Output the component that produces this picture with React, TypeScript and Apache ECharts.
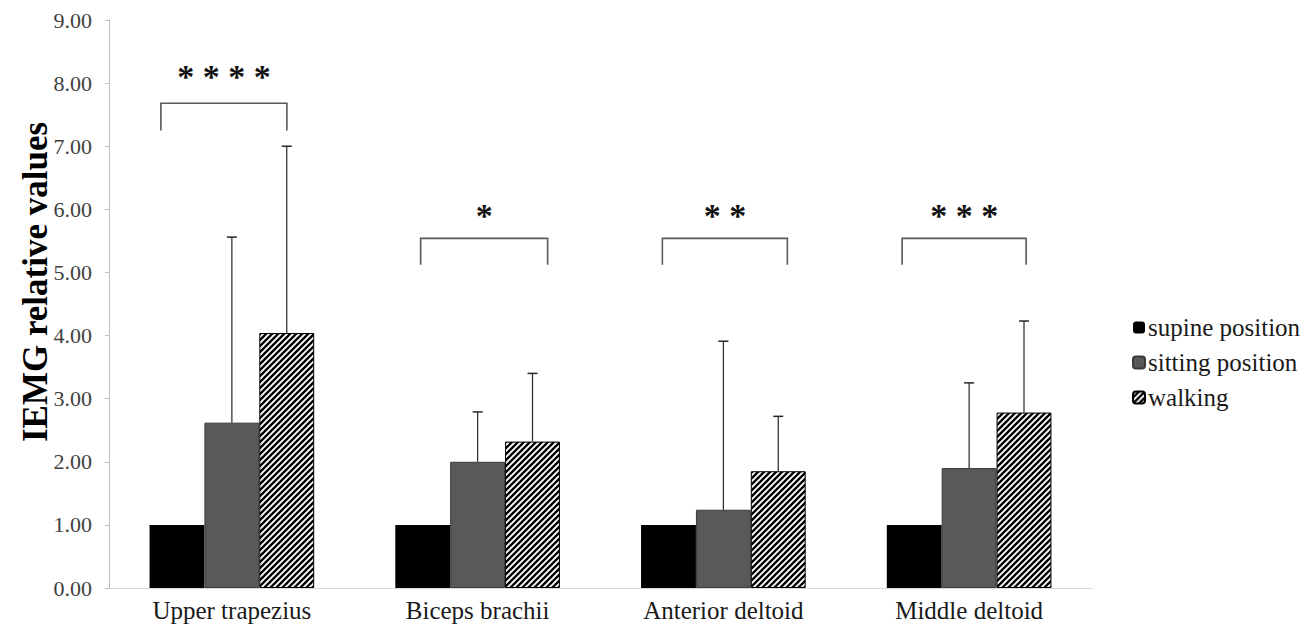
import React, { useEffect, useRef } from "react";
import * as echarts from "echarts";

const categories = ["Upper trapezius", "Biceps brachii", "Anterior deltoid", "Middle deltoid"];
const seriesNames = ["supine position", "sitting position", "walking"];
const supine = [1.0, 1.0, 1.0, 1.0];
const sitting = [2.62, 2.0, 1.24, 1.9];
const walking = [4.04, 2.32, 1.85, 2.78];
const sittingUpper = [5.56, 2.79, 3.91, 3.25];
const walkingUpper = [7.0, 3.4, 2.72, 4.23];
const stars = ["* * * *", "*", "* *", "* * *"];
const bracketTop = [7.68, 5.54, 5.54, 5.54];
const bracketLeg = [7.25, 5.12, 5.12, 5.12];
const starLevel = [8.1, 5.9, 5.9, 5.9];
const yTitle = "IEMG relative values";

// styling: horizontal offsets (px) of bracket legs from the group centre
const bracketOffsets = [
  [-71, 55],
  [-57, 70],
  [-61, 64],
  [-67, 57],
];

const FONT = "Liberation Serif";
const GAP = 0.33;

function makeHatch() {
  const s = 6;
  const c = document.createElement("canvas");
  c.width = s;
  c.height = s;
  const ctx = c.getContext("2d")!;
  ctx.fillStyle = "#fff";
  ctx.fillRect(0, 0, s, s);
  ctx.strokeStyle = "#000";
  ctx.lineWidth = 2.3;
  ctx.beginPath();
  for (const k of [-1, 0, 1]) {
    ctx.moveTo(k * s - 1, s + 1);
    ctx.lineTo(k * s + s + 1, -1);
  }
  ctx.stroke();
  return c;
}

export default function App() {
  const ref = useRef<HTMLDivElement>(null);
  useEffect(() => {
    const chart = echarts.init(ref.current!, undefined, { renderer: "svg" });
    const hatch = makeHatch();

    const errSeries = (name: string, vals: number[], uppers: number[], slot: number) => ({
      type: "custom",
      name: name + " err",
      z: 5,
      data: vals.map((v, i) => [i, v, uppers[i]]),
      encode: { x: 0, y: [1, 2] },
      renderItem: (params: any, api: any) => {
        const band = api.size([1, 0])[0];
        const bw = (band * (1 - GAP)) / 3;
        const base = api.coord([api.value(0), api.value(1)]);
        const top = api.coord([api.value(0), api.value(2)]);
        const x = base[0] + slot * bw;
        return {
          type: "group",
          children: [
            { type: "line", shape: { x1: x, y1: base[1], x2: x, y2: top[1] }, style: { stroke: "#262626", lineWidth: 1.2 } },
            { type: "line", shape: { x1: x - 5, y1: top[1], x2: x + 5, y2: top[1] }, style: { stroke: "#262626", lineWidth: 1.5 } },
          ],
        };
      },
    });

    chart.setOption({
      animation: false,
      backgroundColor: "#fff",
      grid: { left: 109, right: 224, top: 20, bottom: 42 },
      graphic: [
        {
          type: "text",
          x: 35,
          y: 282,
          rotation: Math.PI / 2,
          style: {
            text: yTitle,
            align: "center",
            verticalAlign: "middle",
            fontFamily: FONT,
            fontSize: 35,
            fontWeight: "bold",
            fill: "#000",
          },
        },
      ],
      legend: {
        data: seriesNames,
        orient: "vertical",
        left: 1127,
        top: 310,
        itemWidth: 12,
        itemHeight: 12,
        itemGap: 10,
        textStyle: { fontFamily: FONT, fontSize: 25, color: "#1a1a1a", padding: [0, 0, 0, -2] },
      },
      xAxis: {
        type: "category",
        data: categories,
        axisLine: { lineStyle: { color: "#d9d9d9", width: 1 } },
        axisTick: { show: false },
        axisLabel: { fontFamily: FONT, fontSize: 25, color: "#1a1a1a", margin: 10 },
      },
      yAxis: {
        type: "value",
        min: 0,
        max: 9,
        interval: 1,
        axisLine: { show: true, lineStyle: { color: "#bfbfbf", width: 1 } },
        axisTick: { show: true, length: 4, lineStyle: { color: "#bfbfbf" } },
        splitLine: { show: false },
        axisLabel: {
          fontFamily: FONT,
          fontSize: 22,
          color: "#404040",
          margin: 17,
          formatter: (v: number) => v.toFixed(2),
        },
      },
      series: [
        {
          type: "bar",
          name: seriesNames[0],
          data: supine,
          barGap: "0%",
          barCategoryGap: "33%",
          itemStyle: { color: "#000" },
        },
        {
          type: "bar",
          name: seriesNames[1],
          data: sitting,
          itemStyle: { color: "#595959", borderColor: "#3a3a3a", borderWidth: 1 },
        },
        {
          type: "bar",
          name: seriesNames[2],
          data: walking,
          itemStyle: {
            color: { image: hatch, repeat: "repeat", imageWidth: 6, imageHeight: 6 },
            borderColor: "#000",
            borderWidth: 1,
          },
        },
        errSeries(seriesNames[1], sitting, sittingUpper, 0),
        errSeries(seriesNames[2], walking, walkingUpper, 1),
        {
          type: "custom",
          name: "brackets",
          z: 6,
          data: categories.map((_, i) => [i, bracketTop[i], bracketLeg[i], starLevel[i]]),
          encode: { x: 0, y: [1, 2, 3] },
          renderItem: (params: any, api: any) => {
            const i = params.dataIndex;
            const c = api.coord([api.value(0), api.value(1)]);
            const leg = api.coord([api.value(0), api.value(2)]);
            const st = api.coord([api.value(0), api.value(3)]);
            const [l, r] = bracketOffsets[i];
            const x1 = c[0] + l;
            const x2 = c[0] + r;
            return {
              type: "group",
              children: [
                {
                  type: "polyline",
                  shape: { points: [[x1, leg[1]], [x1, c[1]], [x2, c[1]], [x2, leg[1]]] },
                  style: { stroke: "#595959", lineWidth: 1.6, fill: "none" },
                },
                {
                  type: "text",
                  style: {
                    x: (x1 + x2) / 2,
                    y: st[1],
                    text: stars[i],
                    align: "center",
                    verticalAlign: "middle",
                    fontFamily: FONT,
                    fontSize: 34,
                    fontWeight: "bold",
                    fill: "#111",
                  },
                },
              ],
            };
          },
        },
      ],
    });
    return () => chart.dispose();
  }, []);
  return <div ref={ref} style={{ position: "fixed", left: 0, top: 0, width: 1316, height: 630 }} />;
}
